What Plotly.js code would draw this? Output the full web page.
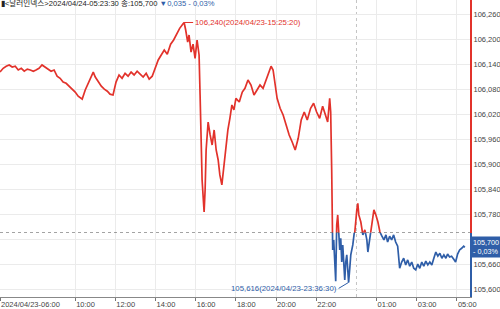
<!DOCTYPE html>
<html><head><meta charset="utf-8">
<script src="https://cdn.plot.ly/plotly-3.0.1.min.js"></script>
<style>html,body{margin:0;padding:0;background:#fff}#chart{width:500px;height:309px}</style>
</head><body><div id="chart"></div>
<script>
// ---- data ----
const times = [
 '06:00','06:25','06:34','06:43','06:52','07:01','07:10','07:19','07:28','07:37','07:46','07:55','08:03','08:12','08:21','08:30','08:39','08:48','08:57','09:06','09:15','09:24','09:33','09:42','09:51','10:00',
 '10:09','10:21','10:30','10:39','10:48','10:54','11:00','11:09','11:18','11:27',
 '11:36','11:44','11:53','12:02','12:11','12:20','12:29','12:38','12:47','12:56',
 '13:05','13:14','13:23','13:32','13:41','13:50','13:59','14:08','14:17','14:26',
 '14:35','14:45','14:54','15:03','15:12','15:21','15:25:20','15:30','15:36','15:40',
 '15:46','15:52','15:58','16:04','16:10','16:13','16:16','16:19','16:25','16:28',
 '16:31','16:37','16:43','16:49','16:55','17:01','17:07','17:12','17:18','17:24',
 '17:30','17:36','17:42','17:48','17:54','18:00','18:10','18:19','18:27','18:36',
 '18:45','18:54','19:03','19:12','19:21','19:30','19:39','19:45','19:51','19:57',
 '20:03','20:12','20:21','20:30','20:39','20:48','20:57','21:06','21:15','21:24',
 '21:33','21:43','21:52','22:01','22:10','22:19','22:28','22:34','22:40','22:43',
 '22:46','22:49','22:52','22:55','22:58','23:01','23:04','23:07','23:10','23:13',
 '23:16','23:19','23:22','23:25','23:28','23:31','23:34','23:36:30','23:40','23:43',
 '23:49','23:55','00:01','00:04','00:07','00:13','00:19','00:25','00:31','00:34',
 '00:40','00:46','00:52','00:58','01:04','01:10','01:16','01:22','01:28','01:33',
 '01:39','01:45','01:51','01:57','02:03','02:09','02:15','02:21','02:27','02:33',
 '02:39','02:45','02:51','02:57','03:03','03:09','03:15','03:21','03:27','03:33',
 '03:39','03:45','03:51','03:57','04:03','04:09','04:15','04:21','04:27','04:32',
 '04:38','04:44','04:50','04:56','05:02','05:08','05:14','05:20','05:23:30'
];
const prices = [
 106.121,106.130,106.135,106.138,106.133,106.135,106.126,106.130,106.123,106.128,106.126,106.123,106.126,106.130,106.138,106.133,106.128,106.123,106.126,106.111,106.106,106.097,106.094,106.087,106.082,106.073,
 106.063,106.056,106.078,106.094,106.111,106.121,106.109,106.097,106.087,106.080,
 106.075,106.068,106.066,106.097,106.114,106.106,106.118,106.111,106.121,106.114,
 106.123,106.116,106.109,106.118,106.104,106.111,106.130,106.150,106.162,106.174,
 106.164,106.188,106.198,106.214,106.226,106.236,106.240,106.222,106.193,106.210,
 106.169,106.188,106.154,106.198,106.162,106.066,105.958,105.862,105.785,105.838,
 105.934,106.001,105.970,105.946,105.982,105.934,105.910,105.874,105.850,105.898,
 105.934,105.982,106.010,106.042,106.030,106.058,106.049,106.073,106.082,106.102,
 106.090,106.066,106.078,106.090,106.082,106.102,106.121,106.135,106.126,106.090,
 106.058,106.034,106.018,105.994,105.970,105.953,105.934,105.962,106.006,106.025,
 106.006,106.034,106.046,106.025,106.010,106.039,106.018,106.001,106.058,106.025,
 105.886,105.694,105.718,105.658,105.619,105.754,105.778,105.737,105.694,105.722,
 105.665,105.706,105.646,105.622,105.665,105.682,105.646,105.616,105.650,105.682,
 105.706,105.737,105.790,105.806,105.778,105.761,105.730,105.742,105.718,105.689,
 105.722,105.761,105.790,105.778,105.761,105.737,105.727,105.718,105.730,105.713,
 105.727,105.718,105.730,105.713,105.703,105.650,105.665,105.674,105.658,105.670,
 105.655,105.665,105.650,105.646,105.660,105.650,105.665,105.655,105.667,105.658,
 105.665,105.658,105.674,105.689,105.679,105.686,105.674,105.682,105.674,105.684,
 105.677,105.679,105.672,105.665,105.684,105.694,105.698,105.703,105.700
];
const prevClose = 105.735;
const lastPrice = 105.700;
const changeAbs = 0.035;
const changePct = '- 0,03%';
const highTime = '2024-04-23 15:25:20', highPrice = 106.240;
const lowTime = '2024-04-23 23:36:30', lowPrice = 105.616;
const xTickVals = ['2024-04-23 06:00','2024-04-23 10:00','2024-04-23 12:00','2024-04-23 14:00','2024-04-23 16:00','2024-04-23 18:00','2024-04-23 20:00','2024-04-23 22:00','2024-04-24 01:00','2024-04-24 03:00','2024-04-24 05:00'];
const xTickText = ['2024/04/23-06:00','10:00','12:00','14:00','16:00','18:00','20:00','22:00','01:00','03:00','05:00'];
const yTickVals = [105.60,105.66,105.72,105.78,105.84,105.90,105.96,106.02,106.08,106.14,106.20,106.26];

// ---- drawing ----
const RED = '#e2322b', BLUE = '#2f5ea8';
const FONT = '"Liberation Sans", Arial, "Noto Sans CJK KR", sans-serif';
const toDate = t => (parseInt(t.slice(0,2),10) < 6 ? '2024-04-24 ' : '2024-04-23 ') + (t.length === 5 ? t + ':00' : t);
const xs = times.map(toDate);
const yBottom = 105.581, yTop = 106.294;
const split = (prevClose - yBottom) / (yTop - yBottom);
const fmt = v => v.toFixed(3).replace('.', ',');

const traces = [
  {x: xs, y: prices, xaxis:'x', yaxis:'y', type:'scatter', mode:'lines', line:{color:RED, width:1.7}, hoverinfo:'skip'},
  {x: xs, y: prices, xaxis:'x', yaxis:'y2', type:'scatter', mode:'lines', line:{color:BLUE, width:1.7}, hoverinfo:'skip'}
];

const grid = '#ebebeb';
const tickFont = {family:FONT, size:7.5, color:'#444'};
const layout = {
  width: 500, height: 309,
  margin: {l:0, r:30, t:0, b:12, pad:0},
  paper_bgcolor:'#ffffff', plot_bgcolor:'#ffffff',
  showlegend:false, separators:',.',
  font:{family:FONT, size:8, color:'#333'},
  title:{
    text: '▮&lt;달러인덱스&gt;2024/04/24-05:23:30 종:' + fmt(lastPrice) + ' <span style="color:' + BLUE + '">▼' + fmt(changeAbs) + ' ' + changePct + '</span>',
    x:0.002, xanchor:'left', xref:'paper', y:0.998, yanchor:'top', yref:'container',
    font:{family:FONT, size:7.6, color:'#222'}
  },
  xaxis:{
    type:'date', range:['2024-04-23 06:00','2024-04-24 05:39'], anchor:'y2',
    rangebreaks:[{values:['2024-04-23 06:00:30'], dvalue:930000}],
    tickmode:'array', tickvals:xTickVals, ticktext:xTickText,
    ticklabelposition:'outside right', ticks:'outside', ticklen:3, tickcolor:'#777',
    showline:true, linecolor:'#888', linewidth:1, showgrid:true, gridcolor:grid, zeroline:false,
    tickfont:tickFont, fixedrange:true
  },
  yaxis:{
    domain:[split,1], range:[prevClose, yTop], side:'right', anchor:'x',
    tickmode:'array', tickvals:yTickVals.filter(v => v > prevClose), tickformat:'.3f',
    showline:true, linecolor:RED, linewidth:2, ticks:'', showgrid:true, gridcolor:grid, zeroline:false,
    tickfont:tickFont
  },
  yaxis2:{
    domain:[0,split], range:[yBottom, prevClose], side:'right', anchor:'x',
    tickmode:'array', tickvals:yTickVals.filter(v => v < prevClose), tickformat:'.3f',
    showline:true, linecolor:BLUE, linewidth:2, ticks:'', showgrid:true, gridcolor:grid, zeroline:false,
    tickfont:tickFont
  },
  shapes:[
    {type:'line', xref:'x', yref:'paper', x0:'2024-04-24 00:00', x1:'2024-04-24 00:00', y0:0, y1:1, line:{color:'#c4c4c4', width:1, dash:'dot'}, layer:'below'},
    {type:'line', xref:'paper', yref:'y', x0:0, x1:1, y0:prevClose, y1:prevClose, line:{color:'#444', width:1, dash:'dot'}}
  ],
  annotations:[
    {x:highTime, y:highPrice, xref:'x', yref:'y', text: fmt(highPrice) + '(2024/04/23-15:25:20)', showarrow:true, arrowhead:0, arrowwidth:1, arrowcolor:RED, ax:9, ay:0, xanchor:'left', yanchor:'middle', font:{family:FONT, size:7.8, color:RED}},
    {x:lowTime, y:lowPrice, xref:'x', yref:'y2', text: fmt(lowPrice) + '(2024/04/23-23:36:30)', showarrow:true, arrowhead:0, arrowwidth:1, arrowcolor:BLUE, ax:-10, ay:6, xanchor:'right', yanchor:'middle', font:{family:FONT, size:7.8, color:BLUE}},
    {x:1, y:lastPrice, xref:'paper', yref:'y2', text: fmt(lastPrice) + '<br>' + changePct, showarrow:false, xanchor:'left', yanchor:'middle', xshift:1, align:'left', bgcolor:BLUE, borderpad:1, font:{family:FONT, size:7.2, color:'#ffffff'}}
  ]
};

Plotly.newPlot('chart', traces, layout, {staticPlot:true, displayModeBar:false});
</script>
</body></html>
